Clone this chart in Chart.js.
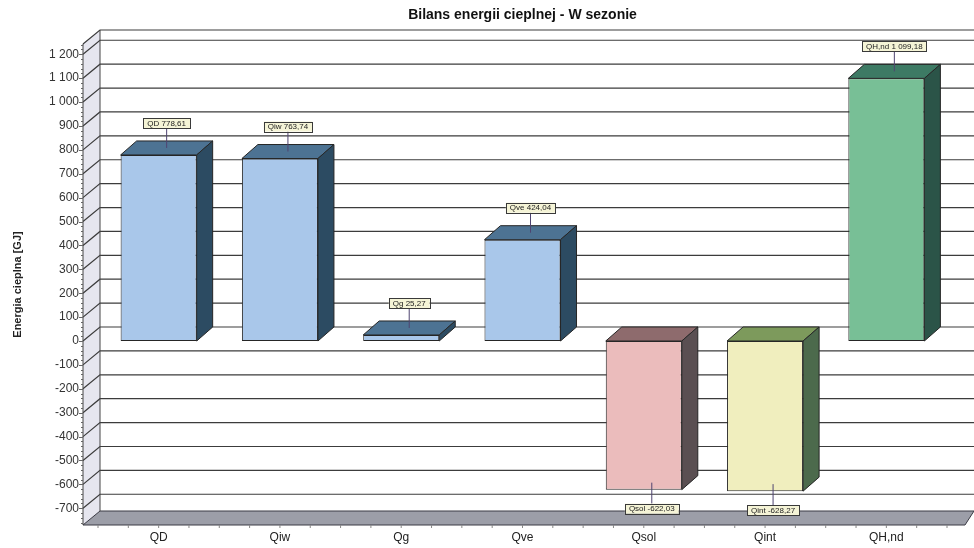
<!DOCTYPE html>
<html><head><meta charset="utf-8">
<script src="https://cdn.jsdelivr.net/npm/chart.js@4/dist/chart.umd.min.js"></script>
<style>html,body{margin:0;padding:0;background:#fff;}canvas{display:block;}</style>
</head><body>
<canvas id="c" width="974" height="548"></canvas>
<script>
const categories = ['QD', 'Qiw', 'Qg', 'Qve', 'Qsol', 'Qint', 'QH,nd'];
const values = [778.61, 763.74, 25.27, 424.04, -622.03, -628.27, 1099.18];
const yTicks = [-700, -600, -500, -400, -300, -200, -100, 0, 100, 200, 300, 400, 500, 600, 700, 800, 900, 1000, 1100, 1200];
const frontColors = ['#a9c7ea', '#a9c7ea', '#a9c7ea', '#a9c7ea', '#ebbcbc', '#f0eebe', '#78bf96'];
const topColors = ['#4d7393', '#4d7393', '#4d7393', '#4d7393', '#8e6b6d', '#7d9a5c', '#3d7a64'];
const sideColors = ['#2c4b62', '#2c4b62', '#2c4b62', '#2c4b62', '#5a4f52', '#4c6a4c', '#2b5448'];

const DX = 16, DY = 14;
const FONT = "'Liberation Sans', Arial, sans-serif";

function groupInt(n) {
  return String(n).replace(/\B(?=(\d{3})+(?!\d))/g, ' ');
}
function fmtTick(v) {
  const s = v < 0 ? '-' : '';
  return s + groupInt(Math.abs(v));
}
function fmtVal(v) {
  const s = v < 0 ? '-' : '';
  const a = Math.abs(v).toFixed(2).split('.');
  return s + groupInt(a[0]) + ',' + a[1];
}

function poly(ctx, pts, fill, stroke) {
  ctx.beginPath();
  ctx.moveTo(pts[0][0], pts[0][1]);
  for (let i = 1; i < pts.length; i++) ctx.lineTo(pts[i][0], pts[i][1]);
  ctx.closePath();
  if (fill) { ctx.fillStyle = fill; ctx.fill(); }
  if (stroke) { ctx.strokeStyle = stroke; ctx.lineWidth = 1; ctx.stroke(); }
}

const threeD = {
  id: 'threeD',
  beforeDatasetsDraw(chart) {
    const { ctx, chartArea: a, scales: { y } } = chart;
    const W = chart.width;
    const fx = a.left - 15, bx = a.left + 2;
    ctx.save();
    // left wall
    poly(ctx, [[fx, a.top], [bx, a.top - DY], [bx, a.bottom - DY], [fx, a.bottom]], '#e6e6ef', null);
    // floor
    poly(ctx, [[fx, a.bottom], [bx, a.bottom - DY], [W, a.bottom - DY], [W - 9, a.bottom]], '#9c9ea8', '#3a3a44');
    // gridlines on back plane
    ctx.strokeStyle = '#3c3c3c';
    ctx.lineWidth = 1.2;
    const lines = yTicks.map(v => y.getPixelForValue(v)).concat([a.top]);
    lines.forEach(yy => {
      ctx.beginPath();
      ctx.moveTo(fx, yy);
      ctx.lineTo(bx, yy - DY);
      ctx.lineTo(W, yy - DY);
      ctx.stroke();
    });
    // wall edges
    ctx.lineWidth = 1;
    ctx.strokeStyle = '#444';
    ctx.beginPath();
    ctx.moveTo(fx, a.top); ctx.lineTo(fx, a.bottom);
    ctx.moveTo(bx, a.top - DY); ctx.lineTo(bx, a.bottom - DY);
    ctx.stroke();
    // minor / major ticks on front edge
    ctx.strokeStyle = '#666';
    for (let v = -760; v <= 1240; v += 20) {
      const yy = Math.round(y.getPixelForValue(v)) + 0.5;
      const len = v % 100 === 0 ? 4 : 2;
      ctx.beginPath();
      ctx.moveTo(fx - len, yy); ctx.lineTo(fx, yy);
      ctx.stroke();
    }
    // small ticks under the floor
    const step = (a.right - a.left) / categories.length / 4;
    ctx.strokeStyle = '#888';
    for (let px = a.left; px <= a.right + 16; px += step) {
      ctx.beginPath();
      ctx.moveTo(px, a.bottom); ctx.lineTo(px, a.bottom + 3);
      ctx.stroke();
    }
    ctx.restore();
  },
  afterDatasetsDraw(chart) {
    const { ctx } = chart;
    const meta = chart.getDatasetMeta(0);
    ctx.save();
    meta.data.forEach((bar, i) => {
      const p = bar.getProps(['x', 'y', 'base', 'width'], true);
      const l = p.x - p.width / 2, r = p.x + p.width / 2;
      const top = Math.min(p.y, p.base), bot = Math.max(p.y, p.base);
      poly(ctx, [[l, top], [l + DX, top - DY], [r + DX, top - DY], [r, top]], topColors[i], '#262626');
      poly(ctx, [[r, top], [r + DX, top - DY], [r + DX, bot - DY], [r, bot]], sideColors[i], '#262626');
    });
    // value labels
    ctx.font = '8px ' + FONT;
    ctx.textAlign = 'center';
    ctx.textBaseline = 'middle';
    meta.data.forEach((bar, i) => {
      const p = bar.getProps(['x', 'y', 'base', 'width'], true);
      const top = Math.min(p.y, p.base), bot = Math.max(p.y, p.base);
      const ax = p.x + DX / 2;
      const pos = values[i] >= 0;
      const ay = pos ? top - DY / 2 : bot - DY / 2;
      const cy = pos ? ay - 25 : ay + 26;
      const txt = categories[i] + ' ' + fmtVal(values[i]);
      const tw = ctx.measureText(txt).width + 8;
      const th = 10;
      ctx.strokeStyle = '#4e4470';
      ctx.lineWidth = 1;
      ctx.beginPath();
      ctx.moveTo(ax, ay);
      ctx.lineTo(ax, pos ? cy + th / 2 : cy - th / 2);
      ctx.stroke();
      ctx.fillStyle = '#f5f4d6';
      ctx.fillRect(ax - tw / 2, cy - th / 2, tw, th);
      ctx.strokeStyle = '#3a3a3a';
      ctx.strokeRect(Math.round(ax - tw / 2) + 0.5, Math.round(cy - th / 2) + 0.5, Math.round(tw), th);
      ctx.fillStyle = '#222';
      ctx.fillText(txt, ax, cy + 0.5);
    });
    ctx.restore();
  }
};

new Chart(document.getElementById('c'), {
  type: 'bar',
  data: {
    labels: categories,
    datasets: [{
      data: values,
      backgroundColor: frontColors,
      borderColor: '#262626',
      borderWidth: 1,
      borderSkipped: false,
      categoryPercentage: 1,
      barPercentage: 0.627
    }]
  },
  options: {
    responsive: false,
    devicePixelRatio: 1,
    animation: false,
    layout: { padding: { left: 0, right: 27, top: 0, bottom: 0 } },
    plugins: {
      legend: { display: false },
      tooltip: { enabled: false },
      title: {
        display: true,
        fullSize: false,
        text: 'Bilans energii cieplnej - W sezonie',
        color: '#111',
        font: { family: FONT, size: 14, weight: 'bold' },
        padding: { top: 7, bottom: 20.2 }
      }
    },
    scales: {
      x: {
        grid: { display: false, drawTicks: false },
        border: { display: false },
        ticks: { padding: 5, color: '#222', font: { family: FONT, size: 12 } },
        afterFit: s => { s.height = 23; }
      },
      y: {
        min: -770,
        max: 1243,
        afterBuildTicks: s => { s.ticks = yTicks.map(v => ({ value: v })); },
        afterFit: s => { s.width = 98; },
        grid: { display: false, drawTicks: true, tickLength: 15, color: 'rgba(0,0,0,0)', tickColor: 'rgba(0,0,0,0)' },
        border: { display: false },
        ticks: {
          padding: 4,
          color: '#333',
          font: { family: FONT, size: 12 },
          callback: v => fmtTick(v)
        },
        title: {
          display: true,
          text: 'Energia cieplna [GJ]',
          color: '#222',
          font: { family: FONT, size: 11, weight: 'bold' },
          padding: { top: 11, bottom: 0 }
        }
      }
    }
  },
  plugins: [threeD]
});
</script>
</body></html>
